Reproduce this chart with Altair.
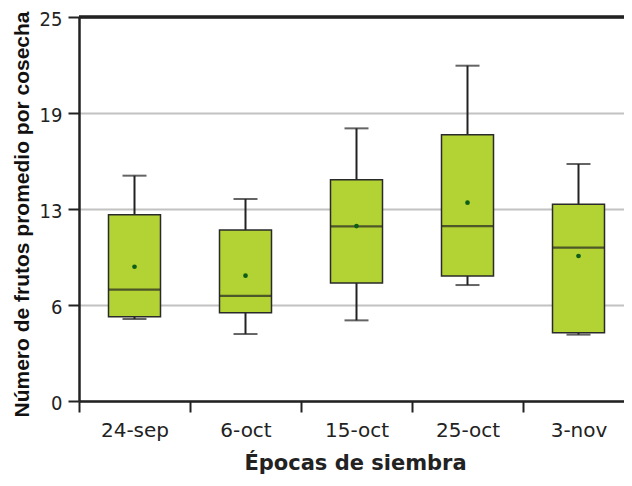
import altair as alt
import pandas as pd

categories = ["24-sep", "6-oct", "15-oct", "25-oct", "3-nov"]
lower = [5.34, 4.36, 5.25, 7.55, 4.32]
q1 = [5.49, 5.75, 7.68, 8.14, 4.45]
median = [7.25, 6.84, 11.37, 11.39, 9.98]
q3 = [12.13, 11.13, 14.41, 17.34, 12.81]
upper = [14.67, 13.15, 17.75, 21.83, 15.43]
mean = [8.74, 8.16, 11.39, 12.91, 9.44]
y_ticks = [0, 6.25, 12.5, 18.75, 25]

df = pd.DataFrame({
    "cat": categories, "lower": lower, "q1": q1, "median": median,
    "q3": q3, "upper": upper, "mean": mean,
})

DARK = "#222222"
FILL = "#b3d334"

x = alt.X(
    "cat:N", sort=categories,
    scale=alt.Scale(paddingInner=0, paddingOuter=0, range=[0, 555]),
    axis=alt.Axis(
        title="Épocas de siembra", tickBand="extent", labelAngle=0,
        labelFont="DejaVu Sans", labelFontSize=20, labelColor="#222222",
        labelPadding=8, tickSize=11, tickWidth=2, tickColor=DARK,
        domainColor=DARK, domainWidth=2.5,
        titleFont="DejaVu Sans", titleFontSize=21, titleFontWeight="bold",
        titleColor="#222222", titleX=276, titleY=68, titleBaseline="alphabetic",
        titleAlign="center", grid=False,
    ),
)
yscale = alt.Scale(domain=[0, 25], nice=False, zero=True)
yaxis = alt.Axis(
    title="Número de frutos promedio por cosecha", values=y_ticks,
    labelExpr="'' + round(datum.value)",
    labelFont="DejaVu Sans Condensed", labelFontSize=20, labelColor="#222222",
    labelPadding=6, labelOffset=2, tickSize=11, tickWidth=2, tickColor=DARK,
    domainColor=DARK, domainWidth=2.5,
    grid=True, gridColor="#c2c2c2", gridWidth=2,
    titleFont="Liberation Sans", titleFontSize=21,
    titleFontWeight="bold", titleColor="#111111",
    titleX=-57, titleY=197, titleAngle=270, titleBaseline="middle", titleAlign="center",
)

base = alt.Chart(df)

whisk_hi = base.mark_rule(color=DARK, strokeWidth=2).encode(
    x=x, y=alt.Y("q3:Q", scale=yscale, axis=yaxis), y2="upper:Q")
whisk_lo = base.mark_rule(color=DARK, strokeWidth=2).encode(
    x=x, y=alt.Y("lower:Q", scale=yscale), y2="q1:Q")
cap_hi = base.mark_tick(color=DARK, size=24, thickness=2, orient="horizontal").encode(
    x=x, y=alt.Y("upper:Q", scale=yscale))
cap_lo = base.mark_tick(color=DARK, size=24, thickness=2, orient="horizontal").encode(
    x=x, y=alt.Y("lower:Q", scale=yscale))
box = base.mark_bar(size=52, fill=FILL, stroke="#2a2a2a", strokeWidth=1.5).encode(
    x=x, y=alt.Y("q1:Q", scale=yscale), y2="q3:Q")
med = base.mark_tick(color=DARK, size=52, thickness=2.2, orient="horizontal").encode(
    x=x, y=alt.Y("median:Q", scale=yscale))
mn = base.mark_point(filled=True, color="#0e5e1a", size=22, opacity=1).encode(
    x=x, y=alt.Y("mean:Q", scale=yscale))
top = alt.Chart(df).mark_rule(color=DARK, strokeWidth=2.5).encode(
    y=alt.value(0), x=alt.value(0), x2=alt.value(600))

chart = alt.layer(whisk_hi, whisk_lo, cap_hi, cap_lo, box, med, mn, top).properties(
    width=545, height=384,
    autosize=alt.AutoSizeParams(type="none"),
    padding={"left": 71, "top": 9, "right": 0, "bottom": 73},
).configure_view(stroke=None).configure(background="white")

chart.save("out.html", embed_options={"renderer": "svg", "actions": False})
